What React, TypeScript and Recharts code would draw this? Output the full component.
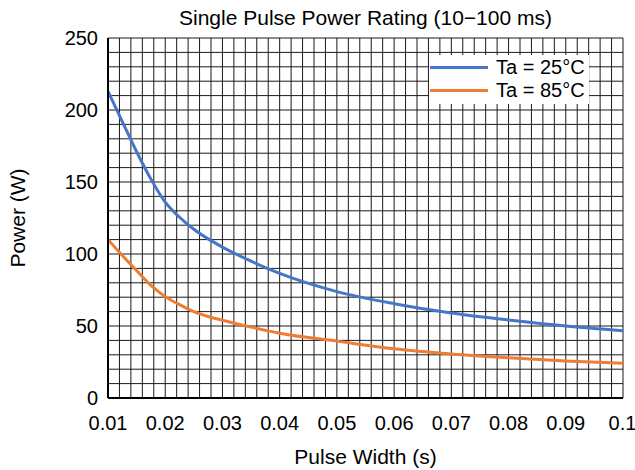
import React from "react";
import {
  LineChart,
  Line,
  XAxis,
  YAxis,
  ReferenceLine,
  Legend,
} from "recharts";

// ── data ─────────────────────────────────────────────────────────────────────

const pulseWidths = [0.01, 0.0125, 0.015, 0.0175, 0.02, 0.0225, 0.025, 0.0275, 0.03, 0.035, 0.04, 0.05, 0.06, 0.07, 0.08, 0.09, 0.1];
const power25 = [213, 192, 171, 152, 136, 125.5, 117.2, 110.5, 104.8, 95, 86.5, 73.9, 65.5, 59, 54.2, 50, 46.7];
const power85 = [110, 99, 88.5, 78.2, 70.4, 64.8, 60, 56.6, 54, 49.2, 45, 39.5, 34.2, 30.6, 27.9, 25.7, 24.1];

const xTicks = [0.01, 0.02, 0.03, 0.04, 0.05, 0.06, 0.07, 0.08, 0.09, 0.1];
const yTicks = [0, 50, 100, 150, 200, 250];

const seriesNames = ["Ta = 25°C", "Ta = 85°C"];
const seriesColors = ["#4676c8", "#ef7d31"];

const chartData = pulseWidths.map((t, i) => ({
  t,
  p25: power25[i],
  p85: power85[i],
}));

// fine grid: 0.002 s × 10 W
const gridX = Array.from({ length: 46 }, (_, i) => +(0.01 + i * 0.002).toFixed(4));
const gridY = Array.from({ length: 26 }, (_, i) => i * 10);

const FONT = "'Liberation Sans', Arial, Helvetica, sans-serif";

// ── legend ───────────────────────────────────────────────────────────────────

function ChartLegend() {
  return (
    <div style={{ background: "#fff", padding: "1px 0 2px 1px", fontFamily: FONT }}>
      {seriesNames.map((name, i) => (
        <div key={name} style={{ display: "flex", alignItems: "center", height: 23 }}>
          <div style={{ width: 58, height: 3, background: seriesColors[i], marginRight: 8 }} />
          <span style={{ fontSize: 20, color: "#000", lineHeight: "23px" }}>{name}</span>
        </div>
      ))}
    </div>
  );
}

export default function App() {
  return (
    <div style={{ position: "fixed", left: 0, top: 0, width: 635, height: 470, background: "#fff", fontFamily: FONT }}>
      <div
        style={{
          position: "absolute",
          left: 108,
          width: 515,
          top: 6,
          textAlign: "center",
          fontSize: 21,
          color: "#000",
          lineHeight: "24px",
        }}
      >
        Single Pulse Power Rating (10−100 ms)
      </div>
      <LineChart
        width={635}
        height={470}
        data={chartData}
        margin={{ top: 38, right: 12, left: 0, bottom: 0 }}
        style={{ fontFamily: FONT }}
      >
        {gridY.map((v) => (
          <ReferenceLine key={"h" + v} y={v} stroke="#1a1a1a" strokeWidth={1} />
        ))}
        {gridX.map((v) => (
          <ReferenceLine key={"v" + v} x={v} stroke="#1a1a1a" strokeWidth={1} />
        ))}
        <XAxis
          dataKey="t"
          type="number"
          domain={[0.01, 0.1]}
          ticks={xTicks}
          height={72}
          tickLine={false}
          tickSize={6}
          tickMargin={12}
          axisLine={{ stroke: "#000", strokeWidth: 2 }}
          tick={{ fontSize: 20, fill: "#000" }}
          allowDataOverflow
          label={{
            content: ({ viewBox }: any) => (
              <text
                x={viewBox.x + viewBox.width / 2}
                y={464}
                textAnchor="middle"
                fontSize={21}
                fill="#000"
              >
                Pulse Width (s)
              </text>
            ),
          }}
        />
        <YAxis
          type="number"
          domain={[0, 250]}
          ticks={yTicks}
          width={108}
          tickLine={false}
          tickSize={6}
          tickMargin={4}
          axisLine={{ stroke: "#000", strokeWidth: 2 }}
          tick={{ fontSize: 20, fill: "#000" }}
          label={{
            content: ({ viewBox }: any) => {
              const cy = viewBox.y + viewBox.height / 2;
              return (
                <text
                  x={25}
                  y={cy}
                  textAnchor="middle"
                  fontSize={21}
                  fill="#000"
                  transform={`rotate(-90 25 ${cy})`}
                >
                  Power (W)
                </text>
              );
            },
          }}
        />
        <Legend
          layout="vertical"
          align="center"
          verticalAlign="middle"
          content={() => <ChartLegend />}
          wrapperStyle={{ left: 429, top: 55, width: 160 }}
        />
        <Line
          type="monotone"
          dataKey="p25"
          name={seriesNames[0]}
          stroke={seriesColors[0]}
          strokeWidth={3}
          dot={false}
          isAnimationActive={false}
        />
        <Line
          type="monotone"
          dataKey="p85"
          name={seriesNames[1]}
          stroke={seriesColors[1]}
          strokeWidth={3}
          dot={false}
          isAnimationActive={false}
        />
      </LineChart>
    </div>
  );
}
